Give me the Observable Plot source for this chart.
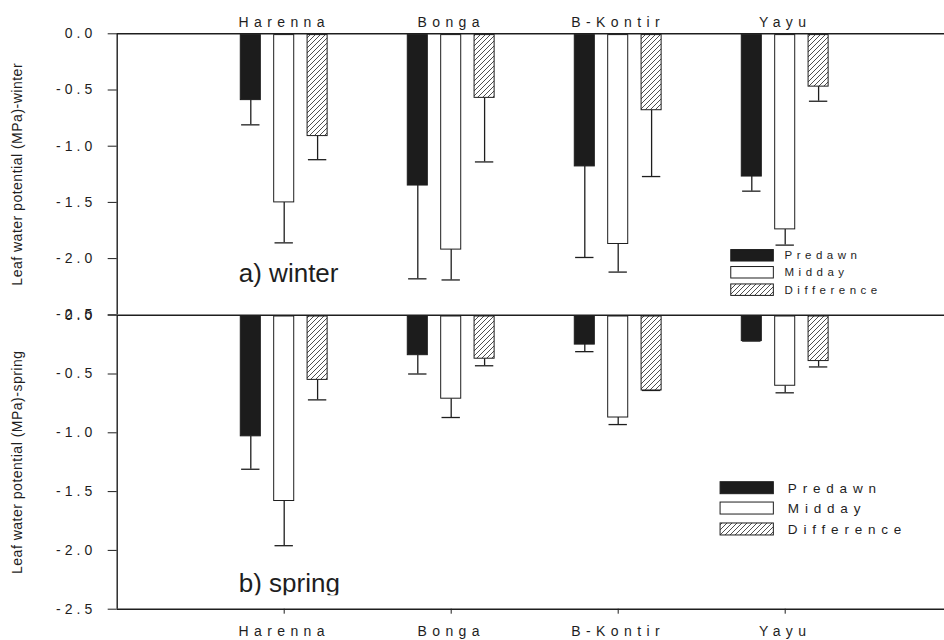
<!DOCTYPE html>
<html><head><meta charset="utf-8">
<script src="https://cdn.jsdelivr.net/npm/d3@7"></script>
<script src="https://cdn.jsdelivr.net/npm/@observablehq/plot@0.6"></script>
<style>
body{margin:0;background:#fff;}
#wrap{position:relative;width:944px;height:640px;overflow:hidden;font-family:"Liberation Sans",Arial,sans-serif;}
#wrap svg{position:absolute;left:0;}
</style></head><body><div id="wrap"></div>
<script>
const sites = ["Harenna", "Bonga", "B-Kontir", "Yayu"];
const series = ["Predawn", "Midday", "Difference"];
const yTicks = [0, -0.5, -1.0, -1.5, -2.0, -2.5];

// a) winter
const winterPredawn   = [-0.59, -1.35, -1.18, -1.27];
const winterPredawnSE = [0.22, 0.83, 0.81, 0.13];
const winterMidday    = [-1.50, -1.92, -1.87, -1.74];
const winterMiddaySE  = [0.36, 0.27, 0.25, 0.14];
const winterDiff      = [-0.91, -0.57, -0.68, -0.47];
const winterDiffSE    = [0.21, 0.57, 0.59, 0.13];

// b) spring
const springPredawn   = [-1.03, -0.34, -0.25, -0.22];
const springPredawnSE = [0.28, 0.16, 0.06, 0.0];
const springMidday    = [-1.58, -0.71, -0.87, -0.60];
const springMiddaySE  = [0.38, 0.16, 0.06, 0.06];
const springDiff      = [-0.55, -0.37, -0.64, -0.39];
const springDiffSE    = [0.17, 0.06, 0.0, 0.05];

function table(p, pse, m, mse, d, dse) {
  const out = [];
  const vals = [[p, pse], [m, mse], [d, dse]];
  sites.forEach((s, i) => {
    vals.forEach(([v, e], k) => {
      out.push({site: s, pos: i + 1, k, series: series[k], value: v[i], end: v[i] - e[i]});
    });
  });
  return out;
}
const winter = table(winterPredawn, winterPredawnSE, winterMidday, winterMiddaySE, winterDiff, winterDiffSE);
const spring = table(springPredawn, springPredawnSE, springMidday, springMiddaySE, springDiff, springDiffSE);

const OFF = [-0.2, 0, 0.2], HALF = 0.06, CAP = 0.055;
const INK = "#1e1e1e";
const fills = id => ["#1c1c1c", "#ffffff", `url(#${id})`];

function barMarks(data, id) {
  const f = fills(id);
  const cx = d => d.pos + OFF[d.k];
  const marks = [];
  marks.push(Plot.ruleX(data.filter(d => d.end < d.value), {x: cx, y1: "value", y2: "end", stroke: INK, strokeWidth: 1.3}));
  marks.push(Plot.ruleY(data, {y: "end", x1: d => cx(d) - CAP, x2: d => cx(d) + CAP, stroke: INK, strokeWidth: 1.3}));
  for (let k = 0; k < 3; k++) {
    marks.push(Plot.rect(data.filter(d => d.k === k), {
      x1: d => cx(d) - HALF, x2: d => cx(d) + HALF, y1: d => 0, y2: "value",
      fill: f[k], stroke: INK, strokeWidth: 1, insetTop: 1.3
    }));
  }
  return marks;
}

function legendMarks(id, cfg) {
  const f = fills(id);
  const marks = [];
  series.forEach((s, k) => {
    marks.push(Plot.rect([s], {
      x1: () => cfg.x1, x2: () => cfg.x2,
      y1: () => cfg.rows[k] + cfg.h, y2: () => cfg.rows[k] - cfg.h,
      fill: f[k], stroke: INK, strokeWidth: 1
    }));
  });
  marks.push(Plot.text(series, {
    x: () => cfg.tx, y: (d, i) => cfg.rows[i], text: d => d,
    textAnchor: "start", fontSize: cfg.fontSize, fill: INK
  }));
  return marks;
}

const FONT = '"Liberation Sans", Arial, sans-serif';

const topPlot = Plot.plot({
  width: 944, height: 315,
  marginLeft: 116.7, marginRight: 0, marginTop: 33.3, marginBottom: 0.7,
  style: {background: "none", fontFamily: FONT, fontSize: "14px", color: INK, overflow: "visible"},
  x: {type: "linear", domain: [0, 5], range: [116.7, 951.7], axis: "top", ticks: [1, 2, 3, 4],
      tickFormat: i => sites[i - 1], tickSize: 0, tickPadding: 7, label: null},
  y: {domain: [-2.5, 0], ticks: yTicks, tickFormat: d => d.toFixed(1), tickSize: 9, tickPadding: 12,
      label: "Leaf water potential (MPa)-winter", labelAnchor: "center", labelOffset: 105},
  marks: [
    ...barMarks(winter, "hatchA"),
    Plot.ruleY([0], {stroke: INK, strokeWidth: 1.4}),
    Plot.ruleX([0], {stroke: INK, strokeWidth: 1.4}),
    Plot.text(["a) winter"], {x: () => 0.728, y: () => -2.136, text: d => d, textAnchor: "start", fontSize: 26, fill: INK}),
    ...legendMarks("hatchA", {x1: 3.677, x2: 3.932, tx: 3.996, rows: [-1.975, -2.126, -2.281], h: 0.051, fontSize: 11.5})
  ]
});

const botPlot = Plot.plot({
  width: 944, height: 340,
  marginLeft: 116.7, marginRight: 0, marginTop: 14.7, marginBottom: 31.3,
  style: {background: "none", fontFamily: FONT, fontSize: "14px", color: INK, overflow: "visible"},
  x: {type: "linear", domain: [0, 5], range: [116.7, 951.7], axis: "bottom", ticks: [1, 2, 3, 4],
      tickFormat: i => sites[i - 1], tickSize: 5, tickPadding: 12, label: null},
  y: {domain: [-2.5, 0], ticks: yTicks, tickFormat: d => d.toFixed(1), tickSize: 9, tickPadding: 12,
      label: "Leaf water potential (MPa)-spring", labelAnchor: "center", labelOffset: 105},
  marks: [
    ...barMarks(spring, "hatchB"),
    Plot.ruleY([0, -2.5], {stroke: INK, strokeWidth: 1.4}),
    Plot.ruleX([0], {stroke: INK, strokeWidth: 1.4}),
    Plot.text(["b) spring"], {x: () => 0.728, y: () => -2.287, text: d => d, textAnchor: "start", fontSize: 26, fill: INK}),
    ...legendMarks("hatchB", {x1: 3.613, x2: 3.932, tx: 4.016, rows: [-1.471, -1.644, -1.822], h: 0.051, fontSize: 13.5})
  ]
});

function post(svg, id, legendSpacing, clipAt) {
  const s = d3.select(svg);
  const defs = s.insert("defs", ":first-child");
  const pat = defs.append("pattern").attr("id", id).attr("patternUnits", "userSpaceOnUse")
    .attr("width", 5).attr("height", 5);
  pat.append("rect").attr("width", 5).attr("height", 5).attr("fill", "white");
  pat.append("path").attr("d", "M-1,1L1,-1M0,5L5,0M4,6L6,4").attr("stroke", "#222").attr("stroke-width", 0.8);
  s.selectAll("text").each(function() {
    const el = d3.select(this);
    let t = this.textContent.trim();
    if (t.startsWith("Leaf")) {
      const clean = t.replace(/\s*[\u2190-\u2193]\s*/g, "").trim();
      el.selectAll("tspan").remove();
      el.text(clean);
      el.attr("font-size", 14).attr("letter-spacing", "0.5px").attr("fill", INK);
    }
    else if (sites.includes(t)) el.attr("font-size", 14).attr("letter-spacing", "5.4px");
    else if (/^-?\d\.\d$/.test(t)) el.attr("letter-spacing", "4px");
    else if (series.includes(t)) el.attr("letter-spacing", legendSpacing + "px");
    else if (clipAt && t === "b) spring" && svg.scale) {
      // the panel label is cut off at its lower edge, as in the source figure
      const y = svg.scale("y");
      if (y && y.apply) {
        const cid = id + "-clip";
        defs.append("clipPath").attr("id", cid).append("rect")
          .attr("x", 0).attr("y", 0).attr("width", 944).attr("height", y.apply(clipAt));
        d3.select(this.parentNode).attr("clip-path", `url(#${cid})`);
      }
    }
  });
}
post(topPlot, "hatchA", 4.5);
post(botPlot, "hatchB", 5.8, -2.381);

const wrap = document.getElementById("wrap");
botPlot.style.top = "300px";
topPlot.style.top = "0px";
wrap.appendChild(botPlot);
wrap.appendChild(topPlot);
</script>
</body></html>
